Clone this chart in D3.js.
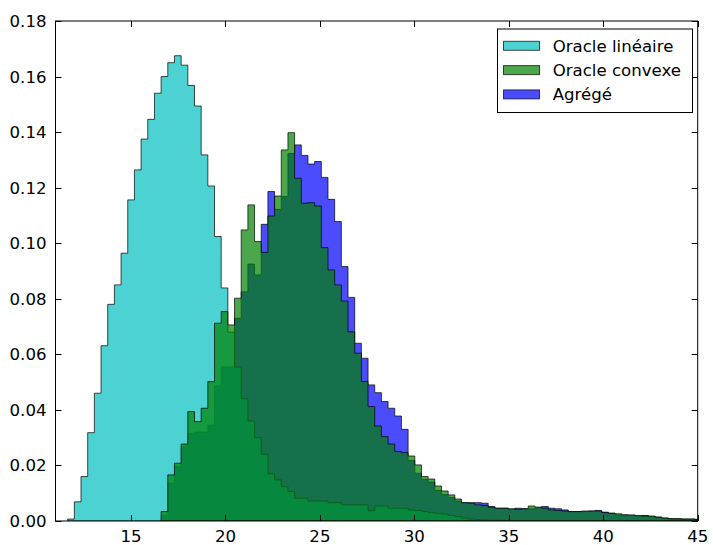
<!DOCTYPE html>
<html>
<head>
<meta charset="utf-8">
<script src="https://cdnjs.cloudflare.com/ajax/libs/d3/7.8.5/d3.min.js"></script>
<style>
  html, body { margin: 0; padding: 0; background: #fff; }
  svg text { font-family: "DejaVu Sans", sans-serif; }
</style>
</head>
<body>
<svg id="chart" width="713" height="545"></svg>
<script>
// ---------------- DATA ----------------
const binStart = 11.644;   // left edge of first bin
const binWidth = 0.3534;   // common bin width

const seriesNames = ["Oracle linéaire", "Oracle convexe", "Agrégé"];

// Oracle linéaire (cyan) – density per bin
const linValues = [
  0.0007, 0.0069, 0.016, 0.0318, 0.046, 0.0631, 0.078, 0.085, 0.0964, 0.1156,
  0.1264, 0.1375, 0.1446, 0.154, 0.160, 0.165, 0.1675, 0.1641, 0.1568, 0.1494,
  0.1318, 0.1206, 0.1024, 0.0839, 0.068, 0.0554, 0.044, 0.036, 0.030, 0.024,
  0.017, 0.0148, 0.0124, 0.0106, 0.0082, 0.0082, 0.0072, 0.0072, 0.0072, 0.0066,
  0.0066, 0.0058, 0.0058, 0.0058, 0.0058, 0.0037, 0.0054, 0.0054, 0.0046, 0.0046,
  0.0046, 0.004, 0.0038, 0.0034, 0.003, 0.0028, 0.0025, 0.002, 0.0016, 0.0011,
  0.0007, 0.0005, 0.0004, 0.0003, 0.0003, 0.0002, 0.0002, 0.0002, 0.0002, 0.0001,
  0.0001, 0.0001, 0.0001, 0.0001, 0.0001, 0.0001, 0.0001, 0.0001, 0.0001, 0.0001,
  0, 0, 0, 0, 0, 0, 0, 0, 0, 0,
  0, 0, 0, 0, 0
];

// Oracle convexe (green)
const cvxValues = [
  0, 0, 0, 0, 0, 0, 0, 0, 0, 0,
  0, 0, 0, 0, 0.0034, 0.0166, 0.0208, 0.0277, 0.0394, 0.0358,
  0.0406, 0.0502, 0.0712, 0.0754, 0.0706, 0.0802, 0.1048, 0.1138, 0.1006, 0.0967,
  0.1098, 0.117, 0.1336, 0.1398, 0.1234, 0.1144, 0.1146, 0.1134, 0.0984, 0.0904,
  0.085, 0.0792, 0.0681, 0.0604, 0.0502, 0.0412, 0.0342, 0.0304, 0.0277, 0.025,
  0.0246, 0.0234, 0.0202, 0.016, 0.0151, 0.0126, 0.0108, 0.0094, 0.0079, 0.0066,
  0.0064, 0.0058, 0.0056, 0.005, 0.0046, 0.0046, 0.0044, 0.0042, 0.0044, 0.0054,
  0.005, 0.0046, 0.004, 0.0038, 0.0036, 0.0034, 0.0034, 0.0036, 0.0036, 0.0036,
  0.003, 0.0028, 0.0026, 0.0022, 0.0022, 0.002, 0.0018, 0.0018, 0.0014, 0.0011,
  0.0008, 0.0008, 0.0007, 0.0007, 0.0006
];

// Agrégé (blue)
const aggValues = [
  0, 0, 0, 0, 0, 0, 0, 0, 0, 0,
  0, 0, 0, 0, 0.002, 0.0136, 0.0196, 0.0268, 0.0316, 0.032,
  0.032, 0.0346, 0.0486, 0.0555, 0.0555, 0.073, 0.0825, 0.0925, 0.0886, 0.1068,
  0.1186, 0.1122, 0.1168, 0.1323, 0.1354, 0.1316, 0.1285, 0.1294, 0.1237, 0.1158,
  0.1078, 0.0916, 0.0805, 0.064, 0.0586, 0.049, 0.0462, 0.043, 0.0406, 0.0378,
  0.033, 0.0218, 0.0172, 0.015, 0.014, 0.011, 0.0095, 0.0085, 0.0072, 0.0066,
  0.0066, 0.0066, 0.0064, 0.0052, 0.0046, 0.0046, 0.0042, 0.0046, 0.0044, 0.0044,
  0.0048, 0.0052, 0.0046, 0.0044, 0.004, 0.0034, 0.0034, 0.0034, 0.0036, 0.0038,
  0.0032, 0.0028, 0.0022, 0.0022, 0.002, 0.0018, 0.002, 0.0016, 0.0014, 0.001,
  0.0008, 0.0008, 0.0007, 0.0007, 0.0006
];

const xTicks = [15, 20, 25, 30, 35, 40, 45];
const yTicks = [0, 0.02, 0.04, 0.06, 0.08, 0.10, 0.12, 0.14, 0.16, 0.18];

// ---------------- LAYOUT ----------------
const W = 713, H = 545;
const plot = { left: 55.5, right: 697.7, top: 21, bottom: 521 };
const x = d3.scaleLinear().domain([11, 45]).range([plot.left, plot.right]);
const y = d3.scaleLinear().domain([0, 0.18]).range([plot.bottom, plot.top]);

const svg = d3.select("#chart");
const fontSize = 16.6;

svg.append("defs").append("clipPath").attr("id", "plotclip")
  .append("rect")
  .attr("x", plot.left).attr("y", plot.top)
  .attr("width", plot.right - plot.left).attr("height", plot.bottom - plot.top);

function stepPoints(values) {
  const pts = [];
  let first = values.findIndex(v => v > 0);
  let last = values.length - 1;
  while (last > 0 && values[last] === 0) last--;
  pts.push([binStart + first * binWidth, 0]);
  for (let i = first; i <= last; i++) {
    const x0 = binStart + i * binWidth, x1 = x0 + binWidth;
    pts.push([x0, values[i]]);
    pts.push([x1, values[i]]);
  }
  pts.push([binStart + (last + 1) * binWidth, 0]);
  return pts;
}

const line = d3.line().x(d => x(d[0])).y(d => y(d[1]));

// draw order: Agrégé, Oracle linéaire, Oracle convexe
const layers = [
  { values: aggValues, color: "#0000ff" },
  { values: linValues, color: "#00bfbf" },
  { values: cvxValues, color: "#008000" }
];

const g = svg.append("g").attr("clip-path", "url(#plotclip)");
layers.forEach(L => {
  g.append("path")
    .attr("d", line(stepPoints(L.values)) + "Z")
    .attr("fill", L.color)
    .attr("fill-opacity", 0.7)
    .attr("stroke", "#000")
    .attr("stroke-opacity", 0.7)
    .attr("stroke-width", 1)
    .attr("stroke-linejoin", "miter");
});

// frame
svg.append("rect")
  .attr("x", plot.left).attr("y", plot.top)
  .attr("width", plot.right - plot.left).attr("height", plot.bottom - plot.top)
  .attr("fill", "none").attr("stroke", "#000").attr("stroke-width", 1);

// ticks (inward, all four sides)
const tickLen = 6;
const axisG = svg.append("g").attr("stroke", "#000").attr("stroke-width", 1);
xTicks.forEach(t => {
  const px = Math.round(x(t)) + 0.5;
  axisG.append("line").attr("x1", px).attr("x2", px).attr("y1", plot.bottom).attr("y2", plot.bottom - tickLen);
  axisG.append("line").attr("x1", px).attr("x2", px).attr("y1", plot.top).attr("y2", plot.top + tickLen);
});
yTicks.forEach(t => {
  const py = Math.round(y(t)) + 0.5;
  axisG.append("line").attr("x1", plot.left).attr("x2", plot.left + tickLen).attr("y1", py).attr("y2", py);
  axisG.append("line").attr("x1", plot.right).attr("x2", plot.right - tickLen).attr("y1", py).attr("y2", py);
});

// tick labels
svg.append("g").selectAll("text").data(xTicks).join("text")
  .attr("x", d => x(d)).attr("y", plot.bottom + 21)
  .attr("text-anchor", "middle").attr("font-size", fontSize).attr("fill", "#000")
  .text(d => d3.format("d")(d));
svg.append("g").selectAll("text").data(yTicks).join("text")
  .attr("x", plot.left - 9).attr("y", d => y(d) + 6)
  .attr("text-anchor", "end").attr("font-size", fontSize).attr("fill", "#000")
  .text(d => d3.format(".2f")(d));

// legend
const legend = { x: 497.5, y: 29, w: 195, h: 83.5 };
svg.append("rect")
  .attr("x", legend.x).attr("y", legend.y).attr("width", legend.w).attr("height", legend.h)
  .attr("fill", "#fff").attr("stroke", "#000").attr("stroke-width", 1);
const legendColors = ["#00bfbf", "#008000", "#0000ff"];
seriesNames.forEach((name, i) => {
  const cy = 45.8 + i * 24.3;
  svg.append("rect")
    .attr("x", 503.5).attr("y", cy - 4.5).attr("width", 36).attr("height", 9)
    .attr("fill", legendColors[i]).attr("fill-opacity", 0.7)
    .attr("stroke", "#000").attr("stroke-opacity", 0.7).attr("stroke-width", 1);
  svg.append("text")
    .attr("x", 552.7).attr("y", cy + 6)
    .attr("font-size", fontSize).attr("fill", "#000")
    .text(name);
});
</script>
</body>
</html>
